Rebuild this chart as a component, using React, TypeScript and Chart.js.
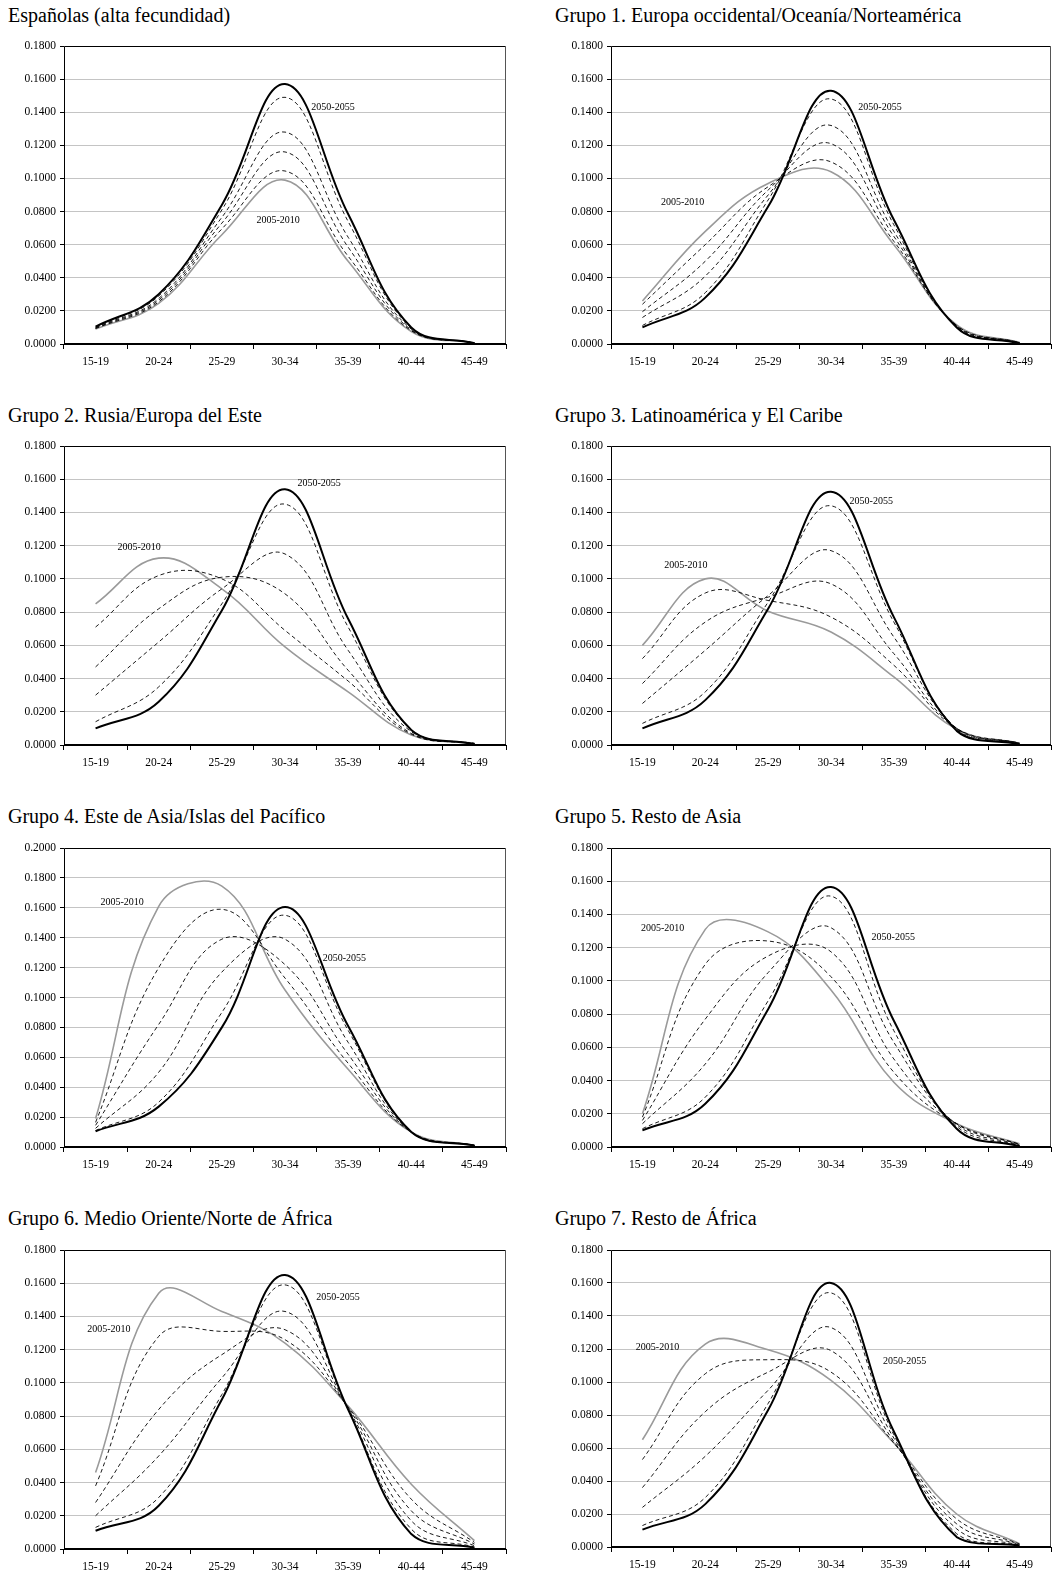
import React, { useEffect, useRef } from 'react';
import { Chart, registerables } from 'chart.js';

Chart.register(...registerables);

// ---------------- DATA ----------------
const AGE_GROUPS = ['15-19', '20-24', '25-29', '30-34', '35-39', '40-44', '45-49'];
const FIRST_PERIOD = '2005-2010';
const LAST_PERIOD = '2050-2055';

// Each panel: 6 series, from 2005-2010 (grey) through four intermediate periods (dashed) to 2050-2055 (black)
const ESPANOLAS = [
  [0.0090, 0.0245, 0.0660, 0.0990, 0.0500, 0.0075, 0.0008],
  [0.0093, 0.0255, 0.0695, 0.1045, 0.0530, 0.0080, 0.0008],
  [0.0096, 0.0265, 0.0730, 0.1160, 0.0585, 0.0085, 0.0007],
  [0.0099, 0.0275, 0.0765, 0.1280, 0.0645, 0.0090, 0.0006],
  [0.0102, 0.0290, 0.0810, 0.1490, 0.0740, 0.0095, 0.0005],
  [0.0105, 0.0300, 0.0840, 0.1570, 0.0785, 0.0100, 0.0005],
];
const GRUPO1 = [
  [0.0260, 0.0680, 0.0970, 0.1040, 0.0600, 0.0115, 0.0010],
  [0.0240, 0.0600, 0.0950, 0.1100, 0.0620, 0.0112, 0.0009],
  [0.0195, 0.0500, 0.0930, 0.1210, 0.0650, 0.0110, 0.0008],
  [0.0160, 0.0410, 0.0900, 0.1320, 0.0680, 0.0108, 0.0007],
  [0.0112, 0.0310, 0.0870, 0.1480, 0.0720, 0.0105, 0.0006],
  [0.0100, 0.0280, 0.0830, 0.1530, 0.0750, 0.0100, 0.0005],
];
const GRUPO2 = [
  [0.0850, 0.1125, 0.0940, 0.0590, 0.0320, 0.0060, 0.0010],
  [0.0710, 0.1020, 0.1000, 0.0690, 0.0385, 0.0065, 0.0010],
  [0.0470, 0.0820, 0.1010, 0.0910, 0.0450, 0.0070, 0.0009],
  [0.0300, 0.0620, 0.0940, 0.1150, 0.0570, 0.0080, 0.0008],
  [0.0140, 0.0350, 0.0850, 0.1450, 0.0710, 0.0090, 0.0006],
  [0.0100, 0.0260, 0.0810, 0.1540, 0.0760, 0.0090, 0.0005],
];
const GRUPO3 = [
  [0.0600, 0.1000, 0.0805, 0.0680, 0.0410, 0.0095, 0.0010],
  [0.0520, 0.0915, 0.0870, 0.0770, 0.0480, 0.0100, 0.0012],
  [0.0370, 0.0740, 0.0890, 0.0970, 0.0550, 0.0100, 0.0011],
  [0.0250, 0.0570, 0.0900, 0.1170, 0.0650, 0.0100, 0.0010],
  [0.0130, 0.0320, 0.0860, 0.1440, 0.0740, 0.0095, 0.0007],
  [0.0100, 0.0270, 0.0820, 0.1525, 0.0770, 0.0085, 0.0005],
];
const GRUPO4 = [
  [0.0190, 0.1610, 0.1745, 0.1050, 0.0520, 0.0100, 0.0010],
  [0.0165, 0.1200, 0.1590, 0.1130, 0.0560, 0.0100, 0.0010],
  [0.0145, 0.0820, 0.1390, 0.1220, 0.0620, 0.0100, 0.0010],
  [0.0125, 0.0500, 0.1170, 0.1390, 0.0700, 0.0100, 0.0010],
  [0.0110, 0.0300, 0.0900, 0.1550, 0.0780, 0.0100, 0.0010],
  [0.0105, 0.0270, 0.0800, 0.1605, 0.0810, 0.0100, 0.0010],
];
const GRUPO5 = [
  [0.0200, 0.1310, 0.1295, 0.0945, 0.0390, 0.0140, 0.0020],
  [0.0180, 0.1100, 0.1240, 0.1025, 0.0450, 0.0140, 0.0017],
  [0.0160, 0.0770, 0.1150, 0.1175, 0.0530, 0.0140, 0.0015],
  [0.0140, 0.0500, 0.1050, 0.1320, 0.0630, 0.0135, 0.0012],
  [0.0110, 0.0300, 0.0880, 0.1510, 0.0700, 0.0125, 0.0008],
  [0.0100, 0.0260, 0.0830, 0.1565, 0.0760, 0.0110, 0.0005],
];
const GRUPO6 = [
  [0.0460, 0.1540, 0.1430, 0.1240, 0.0860, 0.0390, 0.0050],
  [0.0380, 0.1280, 0.1310, 0.1260, 0.0855, 0.0300, 0.0040],
  [0.0280, 0.0840, 0.1170, 0.1320, 0.0850, 0.0230, 0.0030],
  [0.0200, 0.0560, 0.1030, 0.1430, 0.0845, 0.0170, 0.0020],
  [0.0130, 0.0310, 0.0930, 0.1590, 0.0840, 0.0120, 0.0012],
  [0.0110, 0.0260, 0.0900, 0.1650, 0.0840, 0.0090, 0.0008],
];
const GRUPO7 = [
  [0.0650, 0.1230, 0.1195, 0.1010, 0.0630, 0.0200, 0.0020],
  [0.0530, 0.1050, 0.1135, 0.1060, 0.0630, 0.0170, 0.0018],
  [0.0360, 0.0820, 0.1060, 0.1190, 0.0640, 0.0140, 0.0015],
  [0.0240, 0.0550, 0.0950, 0.1330, 0.0660, 0.0110, 0.0012],
  [0.0130, 0.0300, 0.0870, 0.1540, 0.0680, 0.0080, 0.0010],
  [0.0105, 0.0260, 0.0830, 0.1600, 0.0700, 0.0060, 0.0008],
];

const TITLES = [
  'Españolas (alta fecundidad)',
  'Grupo 1. Europa occidental/Oceanía/Norteamérica',
  'Grupo 2. Rusia/Europa del Este',
  'Grupo 3. Latinoamérica y El Caribe',
  'Grupo 4. Este de Asia/Islas del Pacífico',
  'Grupo 5. Resto de Asia',
  'Grupo 6. Medio Oriente/Norte de África',
  'Grupo 7. Resto de África',
];
const SERIES = [ESPANOLAS, GRUPO1, GRUPO2, GRUPO3, GRUPO4, GRUPO5, GRUPO6, GRUPO7];
const Y_MAX = [0.18, 0.18, 0.18, 0.18, 0.2, 0.18, 0.18, 0.18];
const Y_STEP = 0.02;

// ---------------- LAYOUT / STYLE ----------------
// label placement for the period annotations: [category index, value]
const LABEL_LAST = [[3.76, 0.1427], [3.78, 0.1427], [3.54, 0.1575], [3.64, 0.1467], [3.94, 0.1262], [3.99, 0.1262], [3.84, 0.1515], [4.17, 0.1123]];
const LABEL_FIRST = [[2.89, 0.0744], [0.64, 0.0855], [0.69, 0.119], [0.69, 0.1084], [0.42, 0.1634], [0.32, 0.1316], [0.21, 0.132], [0.24, 0.121]];

const COLS = [
  { canvasLeft: 0, plotLeft: 64, plotRight: 506, titleLeft: 8 },
  { canvasLeft: 528, plotLeft: 611, plotRight: 1051, titleLeft: 555 },
];
const ROWS = [
  { titleTop: 5, plot: [[46, 344], [46, 344]] },
  { titleTop: 405, plot: [[446, 745], [446, 745]] },
  { titleTop: 806, plot: [[848, 1147], [848, 1147]] },
  { titleTop: 1208, plot: [[1250, 1549], [1250, 1547]] },
];
const PAD_TOP = 16;
const X_AXIS_H = 30;
const SERIF = '"Liberation Serif", "Times New Roman", serif';
const TICK_SIZE = 11.5;

const STYLES = [
  { color: '#9a9a9a', width: 1.6, dash: [] as number[] },
  { color: '#000', width: 0.9, dash: [4, 3] },
  { color: '#000', width: 0.9, dash: [4, 3] },
  { color: '#000', width: 0.9, dash: [4, 3] },
  { color: '#000', width: 0.9, dash: [4, 3] },
  { color: '#000', width: 2, dash: [] as number[] },
];

function Panel({ idx }: { idx: number }) {
  const ref = useRef<HTMLCanvasElement | null>(null);
  const col = COLS[idx % 2];
  const row = ROWS[Math.floor(idx / 2)];
  const [pTop, pBottom] = row.plot[idx % 2];
  const width = col.plotRight + 4 - col.canvasLeft;
  const height = PAD_TOP + (pBottom - pTop) + X_AXIS_H;

  useEffect(() => {
    const canvas = ref.current;
    if (!canvas) return;
    const series = SERIES[idx];
    const datasets = series.map((vals, i) => ({
      label: i === 0 ? FIRST_PERIOD : i === 5 ? LAST_PERIOD : 'p' + i,
      data: vals,
      borderColor: STYLES[i].color,
      borderWidth: STYLES[i].width,
      borderDash: STYLES[i].dash,
      pointRadius: 0,
      tension: 0.4,
      fill: false,
      order: 5 - i,
    }));
    const framePlugin = {
      id: 'frameAndLabels',
      afterDatasetsDraw(chart: any) {
        const { ctx, chartArea, scales } = chart;
        const xs = scales.x;
        const ys = scales.y;
        ctx.save();
        ctx.lineWidth = 1;
        ctx.strokeStyle = '#000';
        ctx.beginPath();
        ctx.moveTo(chartArea.left + 0.5, chartArea.bottom);
        ctx.lineTo(chartArea.left + 0.5, chartArea.top + 0.5);
        ctx.lineTo(chartArea.right - 0.5, chartArea.top + 0.5);
        ctx.stroke();
        ctx.beginPath();
        ctx.strokeStyle = '#555';
        ctx.moveTo(chartArea.right - 0.5, chartArea.top + 0.5);
        ctx.lineTo(chartArea.right - 0.5, chartArea.bottom);
        ctx.stroke();
        ctx.beginPath();
        ctx.strokeStyle = '#000';
        ctx.lineWidth = 2;
        ctx.moveTo(chartArea.left, chartArea.bottom);
        ctx.lineTo(chartArea.right, chartArea.bottom);
        ctx.stroke();
        ctx.fillStyle = '#000';
        ctx.font = '10px ' + SERIF;
        ctx.textAlign = 'center';
        ctx.textBaseline = 'middle';
        const a = LABEL_LAST[idx];
        const b = LABEL_FIRST[idx];
        ctx.fillText(LAST_PERIOD, xs.getPixelForValue(a[0]), ys.getPixelForValue(a[1]));
        ctx.fillText(FIRST_PERIOD, xs.getPixelForValue(b[0]), ys.getPixelForValue(b[1]));
        ctx.restore();
      },
    };
    const yAxisWidth = col.plotLeft - col.canvasLeft;
    const chart = new Chart(canvas, {
      type: 'line',
      data: { labels: AGE_GROUPS, datasets },
      options: {
        responsive: false,
        animation: false,
        devicePixelRatio: 1,
        layout: { padding: { top: PAD_TOP, right: 4, left: 0, bottom: 0 } },
        plugins: { legend: { display: false }, tooltip: { enabled: false }, title: { display: false } },
        scales: {
          x: {
            offset: true,
            grid: { offset: true, drawOnChartArea: false, drawTicks: true, tickLength: 5, tickColor: '#000', lineWidth: 1 },
            border: { display: false },
            ticks: { color: '#000', font: { family: SERIF, size: TICK_SIZE }, padding: 6, maxRotation: 0, autoSkip: false },
            afterFit: (s: any) => { s.height = X_AXIS_H; },
          },
          y: {
            min: 0,
            max: Y_MAX[idx],
            grid: { color: '#c4c4c4', lineWidth: 1, drawTicks: true, tickLength: 4, tickColor: '#000' },
            border: { display: false },
            ticks: {
              stepSize: Y_STEP,
              color: '#000',
              font: { family: SERIF, size: TICK_SIZE },
              padding: 4,
              callback: (v: any) => Number(v).toFixed(4),
            },
            afterFit: (s: any) => { s.width = yAxisWidth; },
          },
        },
      },
      plugins: [framePlugin],
    });
    return () => chart.destroy();
  }, [idx]);

  return (
    <>
      <div
        style={{
          position: 'absolute',
          left: col.titleLeft,
          top: row.titleTop,
          fontFamily: SERIF,
          fontSize: 20,
          lineHeight: '20px',
          whiteSpace: 'nowrap',
          color: '#000',
        }}
      >
        {TITLES[idx]}
      </div>
      <canvas
        ref={ref}
        width={width}
        height={height}
        style={{ position: 'absolute', left: col.canvasLeft, top: pTop - PAD_TOP, width, height }}
      />
    </>
  );
}

export default function App() {
  return (
    <div style={{ position: 'absolute', left: 0, top: 0, width: 1055, height: 1572, background: '#fff' }}>
      {TITLES.map((_, i) => (
        <Panel key={i} idx={i} />
      ))}
    </div>
  );
}
